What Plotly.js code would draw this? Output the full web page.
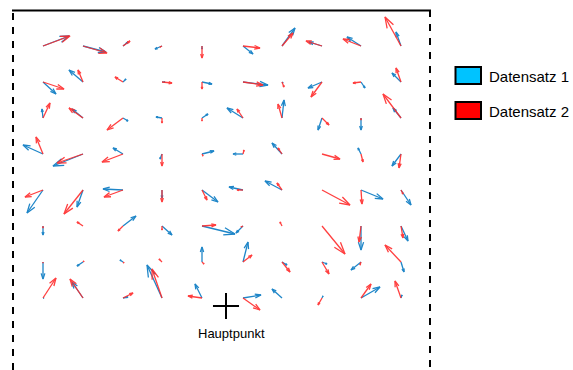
<!DOCTYPE html>
<html><head><meta charset="utf-8">
<script src="https://cdn.plot.ly/plotly-3.0.1.min.js"></script>
<style>html,body{margin:0;padding:0;background:#fff}#chart{width:573px;height:370px}</style>
</head><body><div id="chart"></div>
<script>
// Grid positions (image-plane coordinates, y downwards)
const gridX = [43, 83, 123, 162, 202, 243, 282, 322, 361, 401];
const gridY = [46, 82, 118, 154, 190, 226, 262, 298];

// Datensatz 1 (blue): displacement components per row (top -> bottom), per column (left -> right)
const u1 = [
  [26, 23, 5, -7, 0, 10, 13, -13, -14, -5],
  [13, -14, 3, 3, 10, 25, 1, -14, 4, -9],
  [-1, -11, 5, -6, 6, -16, 2, -4, 0, -8],
  [-20, -30, -10, -2, 12, -10, -10, 0, -3, -9],
  [-16, -6, -20, 0, 16, -14, -17, 0, 22, 10],
  [0, 0, 13, 10, 33, -7, 0, 0, 0, 7],
  [0, -6, -3, 0, 0, 5, 5, 5, -10, 3],
  [1, -11, 5, -15, -7, 18, -10, 1, 19, 1]
];
const v1 = [
  [-10, 6, -4, 3, 3, 8, -18, -4, -9, -14],
  [12, -12, -3, 0, 2, 3, 1, 6, 6, -9],
  [-9, -9, 3, -1, -4, -10, -18, 12, 12, -10],
  [-9, 12, -6, 5, -3, 0, -11, 0, -6, 12],
  [23, 17, -1, 8, 12, -3, -9, 0, 9, 15],
  [9, 0, -10, 9, 8, 7, 0, 0, 24, 15],
  [17, 4, -2, 0, -15, -20, 3, 2, 8, 10],
  [0, -16, -1, -33, -14, -3, -9, -2, -11, -3]
];

// Datensatz 2 (red)
const u2 = [
  [27, 24, 7, -2, 0, 17, 11, -16, -18, -16],
  [21, -5, -8, 10, 0, 20, 2, -11, -8, -5],
  [7, -14, -16, 0, 0, -6, -4, 7, 0, -18],
  [-7, -26, -21, 0, 1, 1, -4, 18, 2, -2],
  [-18, -19, -19, 0, 5, -6, -5, 28, 1, 2],
  [0, -6, -5, 0, 14, -2, -2, 23, -2, 2],
  [0, 1, 1, -3, 2, 9, 8, 7, -1, -16],
  [13, -13, 10, -10, -14, 17, 0, -4, 10, -6]
];
const v2 = [
  [-10, 7, -5, 1, 12, 2, -13, -5, -7, -29],
  [7, -12, -5, 1, 7, 3, 5, 15, 1, -14],
  [-15, -10, 12, 5, 3, -9, -14, 7, 2, -24],
  [-17, 9, 8, 12, 2, -4, -6, 5, 8, 14],
  [7, 24, 7, 12, 10, 0, -7, 15, 14, 4],
  [2, -4, 5, 4, -1, 1, -4, 28, 16, 12],
  [1, -1, 1, -3, 2, -7, 10, 12, 3, -17],
  [-20, -19, -5, -29, -2, 12, 0, 7, -14, -17]
];

const seriesNames = ['Datensatz 1', 'Datensatz 2'];
const arrowColors = ['#1f86c8', '#ff2b2b'];
const legendFill = ['#00c3ff', '#ff0000'];

const hauptX = [226];
const hauptY = [306];
const hauptLabel = 'Hauptpunkt';

function quiver(U, V) {
  const xs = [], ys = [];
  const a = 0.33, b = 0.33;
  for (let r = 0; r < gridY.length; r++) {
    for (let c = 0; c < gridX.length; c++) {
      const x = gridX[c], y = gridY[r], u = U[r][c], v = V[r][c];
      if (u === 0 && v === 0) continue;
      const tx = x + u, ty = y + v;
      xs.push(x, tx, null); ys.push(y, ty, null);
      xs.push(tx - a * (u + b * v), tx, tx - a * (u - b * v), null);
      ys.push(ty - a * (v - b * u), ty, ty - a * (v + b * u), null);
    }
  }
  return {xs, ys};
}

const q1 = quiver(u1, v1), q2 = quiver(u2, v2);
const traces = [
  {type: 'scatter', mode: 'lines', x: q1.xs, y: q1.ys, name: seriesNames[0],
   line: {color: arrowColors[0], width: 1.3}, hoverinfo: 'skip', showlegend: false},
  {type: 'scatter', mode: 'lines', x: q2.xs, y: q2.ys, name: seriesNames[1],
   line: {color: arrowColors[1], width: 1.3}, opacity: 0.9, hoverinfo: 'skip', showlegend: false},
  {type: 'scatter', mode: 'markers', x: hauptX, y: hauptY, name: hauptLabel,
   marker: {symbol: 'cross-thin', size: 18.6, color: '#000', line: {color: '#000', width: 2}},
   hoverinfo: 'skip', showlegend: false}
];

const font = 'Liberation Sans, Arial, sans-serif';
const shapes = [
  {type: 'line', xref: 'x', yref: 'y', x0: 12, x1: 431, y0: 10.5, y1: 10.5, line: {color: '#000', width: 2}},
  {type: 'line', xref: 'x', yref: 'y', x0: 13, x1: 13, y0: 13, y1: 372, line: {color: '#000', width: 2, dash: '7px,7px'}},
  {type: 'line', xref: 'x', yref: 'y', x0: 430, x1: 430, y0: 10, y1: 372, line: {color: '#000', width: 2, dash: '7px,7px'}},
  {type: 'rect', xref: 'x', yref: 'y', x0: 455.5, x1: 481, y0: 67, y1: 84, fillcolor: legendFill[0], line: {color: '#000', width: 2}},
  {type: 'rect', xref: 'x', yref: 'y', x0: 455.5, x1: 481, y0: 102, y1: 119, fillcolor: legendFill[1], line: {color: '#000', width: 2}}
];
const annotations = [
  {x: 487, y: 76, xref: 'x', yref: 'y', text: seriesNames[0], showarrow: false, xanchor: 'left', yanchor: 'middle', font: {family: font, size: 15, color: '#000'}},
  {x: 487, y: 111, xref: 'x', yref: 'y', text: seriesNames[1], showarrow: false, xanchor: 'left', yanchor: 'middle', font: {family: font, size: 15, color: '#000'}},
  {x: hauptX[0] + 5, y: 333, xref: 'x', yref: 'y', text: hauptLabel, showarrow: false, xanchor: 'center', yanchor: 'middle', font: {family: font, size: 13, color: '#000'}}
];

const layout = {
  width: 573, height: 370,
  margin: {l: 0, r: 0, t: 0, b: 0, pad: 0},
  paper_bgcolor: '#fff', plot_bgcolor: '#fff',
  xaxis: {range: [0, 573], visible: false, fixedrange: true},
  yaxis: {range: [370, 0], visible: false, fixedrange: true},
  shapes, annotations, showlegend: false
};
Plotly.newPlot('chart', traces, layout, {staticPlot: true, displayModeBar: false});
</script>
</body></html>
